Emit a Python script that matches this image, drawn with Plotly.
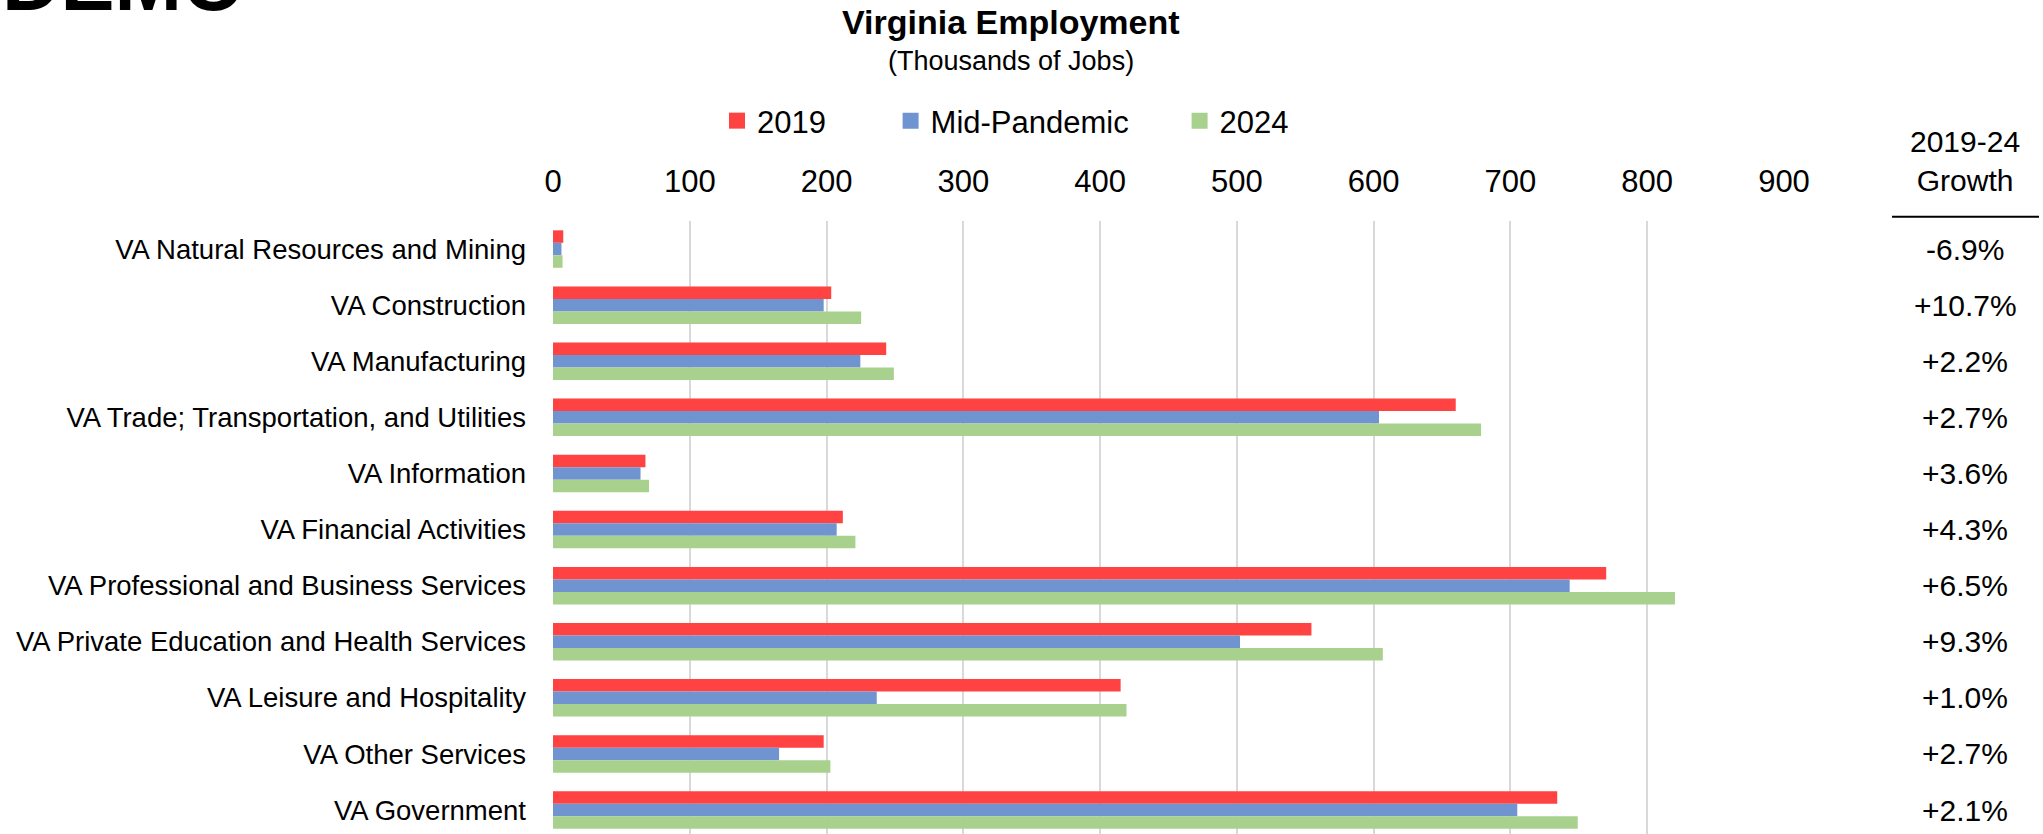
import plotly.graph_objects as go

# ---------------- data ----------------
categories = [
    "VA Natural Resources and Mining",
    "VA Construction",
    "VA Manufacturing",
    "VA Trade; Transportation, and Utilities",
    "VA Information",
    "VA Financial Activities",
    "VA Professional and Business Services",
    "VA Private Education and Health Services",
    "VA Leisure and Hospitality",
    "VA Other Services",
    "VA Government",
]
series_names = ["2019", "Mid-Pandemic", "2024"]
jobs_2019 = [7.5, 203.4, 243.6, 660.0, 67.6, 211.9, 770.0, 554.5, 415.0, 197.9, 734.2]
jobs_mid = [6.2, 197.9, 224.7, 603.9, 64.0, 207.4, 743.3, 502.3, 236.7, 165.3, 705.0]
jobs_2024 = [7.0, 225.3, 249.2, 678.5, 70.2, 221.1, 820.3, 606.7, 419.3, 202.8, 749.2]
growth_labels = ["-6.9%", "+10.7%", "+2.2%", "+2.7%", "+3.6%", "+4.3%",
                 "+6.5%", "+9.3%", "+1.0%", "+2.7%", "+2.1%"]
x_ticks = [0, 100, 200, 300, 400, 500, 600, 700, 800, 900]
growth_header = "2019-24<br>Growth"

colors = ["#FF4242", "#7094D0", "#A9D18E"]

# ---------------- geometry (pixels) ----------------
W, H = 2043, 834
L, R = 553, 1784
T, B = 221, 834
CAT_PX = 56.1


def px2x(px):
    return (px - L) / (R - L)


def px2y(py):
    return (B - py) / (B - T)


FONT = "Liberation Sans, Arial, sans-serif"

fig = go.Figure()
legend_ids = ["legend", "legend2", "legend3"]
for name, vals, col, lg in zip(series_names, [jobs_2019, jobs_mid, jobs_2024], colors, legend_ids):
    fig.add_trace(go.Bar(
        y=categories, x=vals, name=name, orientation="h",
        marker=dict(color=col, line=dict(width=0)),
        showlegend=False, hoverinfo="x+y+name",
    ))
# legend entries (square swatches)
for name, col, lg in zip(series_names, colors, legend_ids):
    fig.add_trace(go.Scatter(
        x=[None], y=[None], mode="markers", name=name, legend=lg,
        marker=dict(symbol="square", size=16, color=col, line=dict(width=0)),
        hoverinfo="skip",
    ))

span = (B - T) / CAT_PX

annotations = [
    dict(text="<b>DEMO</b>", x=px2x(0), y=px2y(29), xref="paper", yref="paper",
         xanchor="left", yanchor="bottom", showarrow=False,
         font=dict(family=FONT, size=81, color="black")),
    dict(text="<b>Virginia Employment</b>", x=px2x(1011), y=px2y(21.6), xref="paper", yref="paper",
         xanchor="center", yanchor="middle", showarrow=False,
         font=dict(family=FONT, size=34, color="black")),
    dict(text="(Thousands of Jobs)", x=px2x(1011), y=px2y(61), xref="paper", yref="paper",
         xanchor="center", yanchor="middle", showarrow=False,
         font=dict(family=FONT, size=27, color="black")),
    dict(text=growth_header, x=px2x(1965), y=px2y(160.5), xref="paper", yref="paper",
         xanchor="center", yanchor="middle", showarrow=False,
         font=dict(family=FONT, size=30, color="black")),
]
for cat, g in zip(categories, growth_labels):
    annotations.append(dict(
        text=g, x=px2x(1965), y=cat, xref="paper", yref="y",
        xanchor="center", yanchor="middle", showarrow=False,
        font=dict(family=FONT, size=30, color="black")))

legend_common = dict(orientation="h", xref="container", yref="container",
                     xanchor="left", yanchor="middle", y=1 - 121 / H,
                     font=dict(family=FONT, size=31, color="black"),
                     bgcolor="rgba(0,0,0,0)", borderwidth=0, itemclick=False,
                     itemdoubleclick=False)

fig.update_layout(
    width=W, height=H,
    margin=dict(l=L, r=W - R, t=T, b=H - B, pad=0),
    paper_bgcolor="white", plot_bgcolor="white",
    barmode="group", bargap=0.332, bargroupgap=0,
    font=dict(family=FONT, color="black"),
    showlegend=True,
    legend=dict(x=(757 - 40) / W, **legend_common),
    legend2=dict(x=(930.6 - 40) / W, **legend_common),
    legend3=dict(x=(1219.6 - 40) / W, **legend_common),
    annotations=annotations,
    shapes=[dict(type="line", xref="paper", yref="paper",
                 x0=px2x(1892), x1=px2x(2039), y0=px2y(216.7), y1=px2y(216.7),
                 line=dict(color="black", width=2))],
    xaxis=dict(
        side="top", range=[0, 900], tickvals=x_ticks, ticktext=[str(v) for v in x_ticks],
        showgrid=True, gridcolor="#D9D9D9", gridwidth=1.5, zeroline=False,
        showline=False, ticks="", ticklabelstandoff=22, automargin=False,
        tickfont=dict(family=FONT, size=31, color="black"), fixedrange=True,
    ),
    yaxis=dict(
        type="category", categoryorder="array", categoryarray=categories,
        range=[-0.5 + span, -0.5], autorange=False,
        showgrid=False, zeroline=False, showline=False, ticks="",
        ticklabelstandoff=26, automargin=False,
        tickfont=dict(family=FONT, size=27.5, color="black"), fixedrange=True,
    ),
)

fig.write_html("out.html", config={"displayModeBar": False},
               post_script="document.body.style.margin='0';document.body.style.overflow='hidden';")
